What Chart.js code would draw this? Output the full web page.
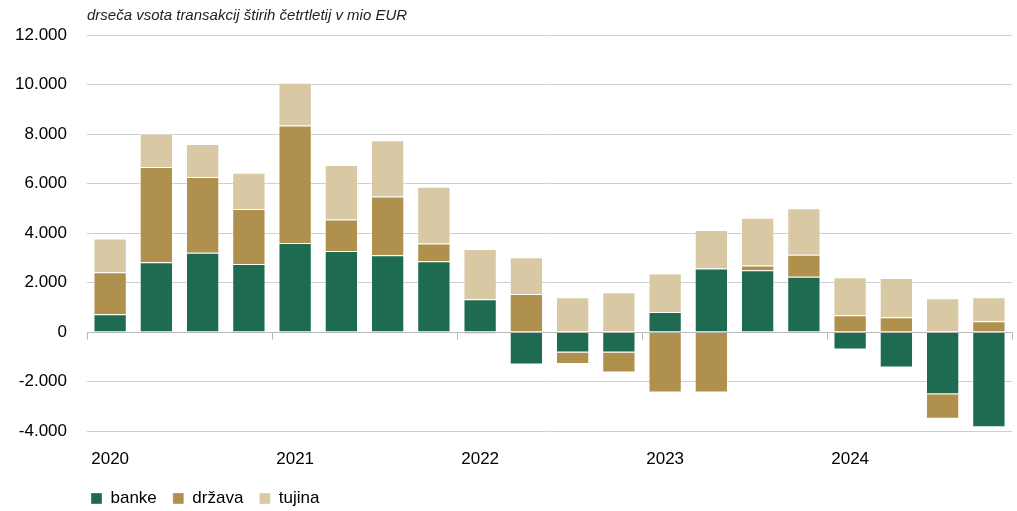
<!DOCTYPE html>
<html lang="sl">
<head>
  <meta charset="UTF-8" />
  <title>Drseča vsota transakcij</title>
  <script src="https://cdn.jsdelivr.net/npm/chart.js"></script>
  <style>
    body { margin: 0; background: #fff; font-family: "Liberation Sans", Arial, sans-serif; }
    .chart-box { position: relative; width: 1017px; height: 511px; }
  </style>
</head>
<body>
  <div class="chart-box"><canvas id="chart"></canvas></div>
  <script>
    // quarters, 2020 Q1 .. 2024 Q4
    const quarters = [
      '2020 Q1', '2020 Q2', '2020 Q3', '2020 Q4',
      '2021 Q1', '2021 Q2', '2021 Q3', '2021 Q4',
      '2022 Q1', '2022 Q2', '2022 Q3', '2022 Q4',
      '2023 Q1', '2023 Q2', '2023 Q3', '2023 Q4',
      '2024 Q1', '2024 Q2', '2024 Q3', '2024 Q4'
    ];
    // mio EUR
    const banke  = [720, 2820, 3200, 2750, 3600, 3270, 3100, 2860, 1320, -1310, -830, -830, 810, 2570, 2500, 2230, -710, -1430, -2520, -3850];
    const drzava = [1690, 3850, 3060, 2220, 4740, 1280, 2370, 720, -80, 1540, -460, -810, -2440, -2440, 190, 890, 680, 600, -990, 430];
    const tujina = [1370, 1340, 1340, 1460, 1730, 2200, 2280, 2290, 2030, 1480, 1400, 1610, 1550, 1550, 1930, 1880, 1530, 1580, 1360, 970];
    const yTicks = [-4000, -2000, 0, 2000, 4000, 6000, 8000, 10000, 12000];

    const fmt = n => (n < 0 ? '-' : '') + String(Math.abs(n)).replace(/\B(?=(\d{3})+(?!\d))/g, '.');

    // zero line and short tick marks at year boundaries
    const zeroAxis = {
      id: 'zeroAxis',
      afterDatasetsDraw(chart) {
        const { ctx, chartArea, scales: { x, y } } = chart;
        const y0 = Math.round(y.getPixelForValue(0)) + 0.5;
        const half = (x.getPixelForValue(1) - x.getPixelForValue(0)) / 2;
        ctx.save();
        ctx.strokeStyle = '#b8b8b8';
        ctx.lineWidth = 1;
        ctx.beginPath();
        ctx.moveTo(chartArea.left, y0);
        ctx.lineTo(chartArea.right, y0);
        const marks = [];
        quarters.forEach((q, i) => { if (q.endsWith('Q1')) marks.push(x.getPixelForValue(i) - half); });
        marks.push(x.getPixelForValue(quarters.length - 1) + half);
        marks.forEach(px => {
          const m = Math.round(px) + 0.5;
          ctx.moveTo(m, y0);
          ctx.lineTo(m, y0 + 7);
        });
        ctx.stroke();
        ctx.restore();
      }
    };

    // line the legend up with the plot like the original
    const alignBoxes = {
      id: 'alignBoxes',
      afterLayout(chart) {
        chart.legend.left = chart.chartArea.left - 12;
      }
    };

    const font = { family: '"Liberation Sans", Arial, sans-serif', size: 17 };

    new Chart(document.getElementById('chart'), {
      type: 'bar',
      data: {
        labels: quarters,
        datasets: [
          { label: 'banke', data: banke, backgroundColor: '#1f6b52' },
          { label: 'država', data: drzava, backgroundColor: '#af914d' },
          { label: 'tujina', data: tujina, backgroundColor: '#d8c9a4' }
        ]
      },
      options: {
        responsive: true,
        maintainAspectRatio: false,
        animation: false,
        layout: { padding: { left: 0, right: 5, top: 0, bottom: 0 } },
        datasets: {
          bar: { categoryPercentage: 0.72, barPercentage: 1, borderWidth: 1, borderColor: 'rgba(255,255,255,0.35)' }
        },
        scales: {
          x: {
            stacked: true,
            afterFit: scale => { scale.height = 43; },
            grid: { display: false, drawTicks: false },
            border: { display: false },
            ticks: {
              autoSkip: false, maxRotation: 0, padding: 18, color: '#000', font: font,
              callback: (v, i) => quarters[i].endsWith('Q1') ? quarters[i].slice(0, 4) : ''
            }
          },
          y: {
            stacked: true,
            min: yTicks[0],
            max: yTicks[yTicks.length - 1],
            afterBuildTicks: scale => { scale.ticks = yTicks.map(v => ({ value: v })); },
            afterFit: scale => { scale.width = 87; },
            grid: { color: '#cfcfcf', drawTicks: false },
            border: { display: false },
            ticks: { padding: 20, color: '#000', font: font, callback: v => fmt(v) }
          }
        },
        plugins: {
          title: {
            display: true,
            text: 'drseča vsota transakcij štirih četrtletij v mio EUR',
            align: 'start',
            fullSize: false,
            color: '#222',
            font: { family: '"Liberation Sans", Arial, sans-serif', size: 15, style: 'italic', weight: 'normal' },
            padding: { top: 7, bottom: 10 }
          },
          legend: {
            position: 'bottom',
            align: 'start',
            fullSize: false,
            maxHeight: 37,
            labels: { boxWidth: 11, boxHeight: 11, padding: 16, color: '#000', font: font }
          },
          tooltip: { enabled: false }
        }
      },
      plugins: [zeroAxis, alignBoxes]
    });
  </script>
</body>
</html>
